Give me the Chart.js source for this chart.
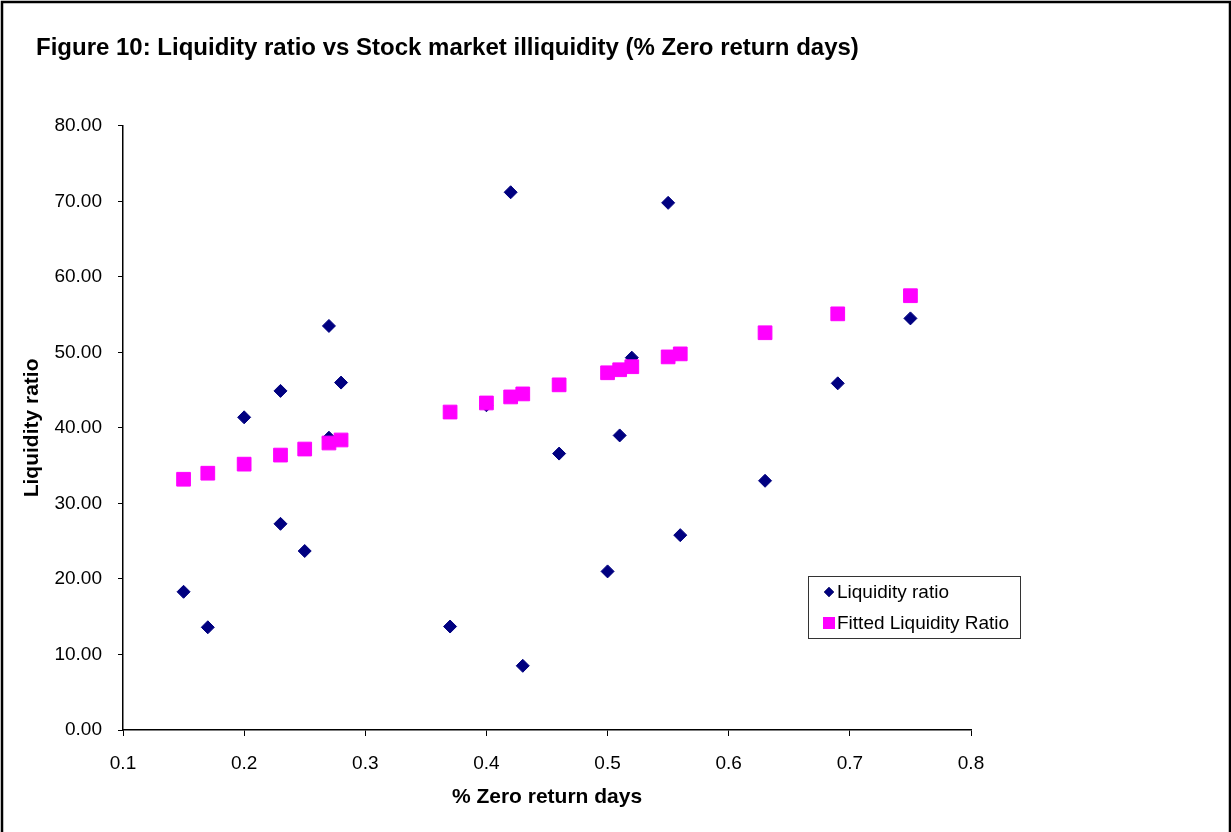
<!DOCTYPE html>
<html>
<head>
<meta charset="utf-8">
<script src="https://cdn.jsdelivr.net/npm/chart.js@4/dist/chart.umd.min.js"></script>
<style>
  html, body { margin: 0; padding: 0; background: #fff; }
  #wrap { width: 1231px; height: 832px; position: relative; }
</style>
</head>
<body>
<div id="wrap"><canvas id="my_Chart" width="1231" height="832"></canvas></div>
<script>
// % zero return days for each market
var zeroDays = [0.15, 0.17, 0.20, 0.23, 0.23, 0.25, 0.27, 0.27, 0.28, 0.37, 0.40, 0.42, 0.43, 0.46, 0.50, 0.51, 0.52, 0.55, 0.56, 0.63, 0.69, 0.75];
var liquidity = [18.3, 13.6, 41.4, 44.9, 27.3, 23.7, 53.5, 38.7, 46.0, 13.7, 43.0, 71.2, 8.5, 36.6, 21.0, 39.0, 49.3, 69.8, 25.8, 33.0, 45.9, 54.5];

var fitDays = [0.15, 0.17, 0.20, 0.23, 0.25, 0.27, 0.28, 0.37, 0.40, 0.42, 0.43, 0.46, 0.50, 0.51, 0.52, 0.55, 0.56, 0.63, 0.69, 0.75];
var fitted = [33.2, 34.0, 35.2, 36.4, 37.2, 38.0, 38.4, 42.1, 43.3, 44.1, 44.5, 45.7, 47.3, 47.7, 48.1, 49.4, 49.8, 52.6, 55.1, 57.5];

var seriesNames = ["Liquidity ratio", "Fitted Liquidity Ratio"];
var chartTitle = "Figure 10: Liquidity ratio vs Stock market illiquidity (% Zero return days)";

function toPoints(xs, ys){
	var out = [];
	for(var i = 0; i < xs.length; i++){
		out.push({x: xs[i], y: ys[i]});
	}
	return out;
}

var FONT = "'Liberation Sans', Arial, sans-serif";

// white page + frame like the original figure
var framePlugin = {
	id: 'frame',
	beforeDraw: function(chart){
		var ctx = chart.ctx;
		ctx.save();
		ctx.fillStyle = '#fff';
		ctx.fillRect(0, 0, chart.width, chart.height);
		ctx.strokeStyle = '#000';
		ctx.lineWidth = 2.5;
		ctx.beginPath();
		ctx.moveTo(2, chart.height + 5);
		ctx.lineTo(2, 2);
		ctx.lineTo(1230, 2);
		ctx.lineTo(1230, chart.height + 5);
		ctx.stroke();
		ctx.restore();
	}
};

// boxed legend sitting inside the plot, lower right
var boxLegend = {
	id: 'boxLegend',
	afterDraw: function(chart){
		var ctx = chart.ctx;
		var a = chart.chartArea;
		var bx = a.right - 163, by = a.bottom - 154, bw = 212, bh = 62;
		ctx.save();
		ctx.fillStyle = '#fff';
		ctx.fillRect(bx, by, bw, bh);
		ctx.strokeStyle = '#333';
		ctx.lineWidth = 1;
		ctx.strokeRect(bx + 0.5, by + 0.5, bw, bh);
		ctx.font = '19px ' + FONT;
		ctx.textBaseline = 'middle';
		ctx.fillStyle = '#000';
		chart.data.datasets.forEach(function(ds, i){
			var cy = by + 16 + i * 31;
			Chart.helpers.drawPoint(ctx, {
				pointStyle: ds.pointStyle,
				radius: i == 0 ? 5 : 8.5,
				borderWidth: 0
			}, bx + 21, cy);
			ctx.fillStyle = ds.backgroundColor;
			ctx.fill();
			ctx.fillStyle = '#000';
			ctx.fillText(ds.label, bx + 29, cy + 1);
		});
		ctx.restore();
	}
};

var ctx = document.getElementById("my_Chart");
var myChart = new Chart(ctx, {
	type: 'scatter',
	data: {
		datasets: [
			{
				label: seriesNames[0],
				data: toPoints(zeroDays, liquidity),
				pointStyle: 'rectRot',
				pointRadius: 6.5,
				borderWidth: 1,
				backgroundColor: '#000080',
				borderColor: '#000080',
				order: 1
			},
			{
				label: seriesNames[1],
				data: toPoints(fitDays, fitted),
				pointStyle: 'rect',
				pointRadius: 9.7,
				borderWidth: 1,
				backgroundColor: '#FF00FF',
				borderColor: '#FF00FF',
				order: 0
			}
		]
	},
	options: {
		responsive: false,
		animation: false,
		layout: { padding: { left: 36, top: 34, right: 260, bottom: 22 } },
		plugins: {
			legend: { display: false },
			tooltip: { enabled: false },
			title: {
				display: true,
				text: chartTitle,
				align: 'start',
				color: '#000',
				font: { family: FONT, size: 24, weight: 'bold' },
				padding: { top: 0, bottom: 63 }
			}
		},
		scales: {
			x: {
				type: 'linear',
				min: 0.1,
				max: 0.8,
				afterFit: function(s){ s.height = 80; },
				ticks: {
					stepSize: 0.1,
					color: '#000',
					padding: 16,
					font: { family: FONT, size: 19 },
					callback: function(v){ return Math.round(v * 10) / 10; }
				},
				grid: { drawOnChartArea: false, tickLength: 6, tickColor: '#000', tickWidth: 1 },
				border: { display: true, color: '#000', width: 1.5 },
				title: {
					display: true,
					text: '% Zero return days',
					color: '#000',
					font: { family: FONT, size: 21, weight: 'bold' },
					padding: { top: 0, bottom: 0 }
				}
			},
			y: {
				min: 0,
				max: 80,
				afterFit: function(s){ s.width = 87; },
				ticks: {
					stepSize: 10,
					color: '#000',
					padding: 16,
					font: { family: FONT, size: 19 },
					callback: function(v){ return v.toFixed(2); }
				},
				grid: { drawOnChartArea: false, tickLength: 5, tickColor: '#000', tickWidth: 1 },
				border: { display: true, color: '#000', width: 1.5 },
				title: {
					display: true,
					text: 'Liquidity ratio',
					color: '#000',
					font: { family: FONT, size: 21, weight: 'bold' },
					padding: { top: -16, bottom: 0 }
				}
			}
		}
	},
	plugins: [framePlugin, boxLegend]
});
</script>
</body>
</html>
